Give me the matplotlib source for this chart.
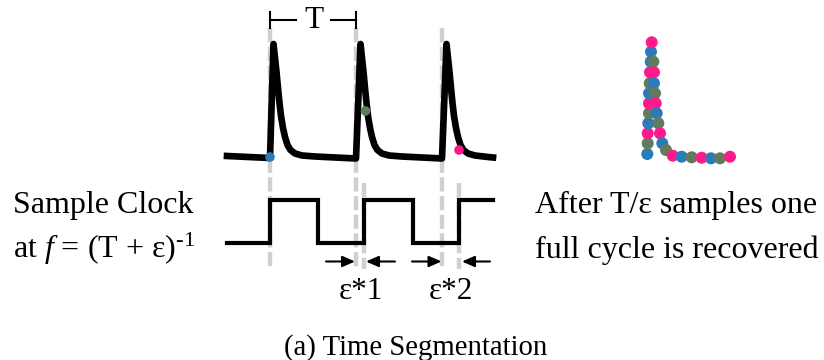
import matplotlib.pyplot as plt

plt.rcParams['font.family'] = ['Liberation Serif', 'DejaVu Serif']
plt.rcParams['mathtext.fontset'] = 'custom'
plt.rcParams['mathtext.rm'] = 'Liberation Serif'
plt.rcParams['mathtext.it'] = 'Liberation Serif:italic'

BLUE = '#2b7bba'
GREEN = '#5f7c5c'
PINK = '#ff1a8c'

# pulse waveform (pixel coordinates)
wave_x = [227, 270, 273.5, 275, 276.5, 278, 279.5, 281, 283, 285, 287.5, 290.5, 295, 302, 315, 356,
          360.5, 362, 363.5, 365, 366.5, 368, 370, 372, 374.5, 377.5, 382, 389, 402, 442,
          446.5, 448, 449.5, 451, 452.5, 454, 456, 458, 460.5, 463.5, 468, 475, 488, 493]
wave_y = [156, 158, 44, 58, 72, 88, 103, 116, 128, 137, 145, 150, 153.5, 155.5, 156.5, 158.5,
          44, 58, 72, 88, 103, 116, 128, 137, 145, 150, 153.5, 155.5, 156.5, 158.5,
          44, 58, 72, 88, 103, 116, 128, 137, 145, 150, 153.5, 155.5, 157, 157.5]

# sample clock square wave
clock_x = [227, 270, 270, 318, 318, 364, 364, 413, 413, 459, 459, 493]
clock_y = [243, 243, 200, 200, 243, 243, 200, 200, 243, 243, 200, 200]

# grey guides: pulse onsets and clock edges
guide_long = [270, 356, 442]
guide_short = [364, 459]

# samples taken on the pulses
dot_x = [270, 365.5, 459]
dot_y = [157, 111, 150]
dot_c = [BLUE, GREEN, PINK]

# reconstructed cycle
rec_x = [647.3, 647.7, 647.7, 648.3, 649, 649, 649, 649.7, 650, 650.7, 651, 651.7,
         653.3, 654, 654, 655, 655.7, 656.7, 658.3, 660, 662.3, 666, 672.7,
         681.7, 691.7, 701.7, 711, 720, 730]
rec_y = [154, 143.3, 133.3, 123.3, 113.3, 103.3, 93.3, 83.3, 72.3, 61.7, 51.7, 42.3,
         61.7, 72.3, 83.3, 93.3, 103.3, 113.3, 123.3, 133.3, 143.3, 150, 155.7,
         156.7, 157.3, 157.7, 158.3, 158.3, 156.7]
rec_c = [BLUE, GREEN, PINK, BLUE, GREEN, PINK, BLUE, GREEN, PINK, BLUE, BLUE, PINK,
         GREEN, PINK, BLUE, GREEN, PINK, BLUE, GREEN, PINK, BLUE, GREEN, PINK,
         BLUE, GREEN, PINK, BLUE, GREEN, PINK]

# epsilon offset arrows (tail, tip)
arrows = [(326, 355), (395, 366), (412, 441.5), (490, 462)]
eps_labels = ['ε*1', 'ε*2']
eps_x = [360.5, 450.5]

fig = plt.figure(figsize=(8.24, 3.6), dpi=100)
ax = fig.add_axes([0, 0, 1, 1])
ax.set_xlim(0, 824)
ax.set_ylim(360, 0)
ax.axis('off')

for x in guide_long:
    ax.plot([x, x], [28, 269], color='#d0d0d0', lw=3.2, ls=(0, (3.2, 1.0)), zorder=1)
for x in guide_short:
    ax.plot([x, x], [183, 269], color='#d0d0d0', lw=3.2, ls=(0, (3.2, 1.0)), zorder=1)

ax.plot(wave_x, wave_y, color='k', lw=4.8, solid_joinstyle='round', zorder=2)
ax.plot(clock_x, clock_y, color='k', lw=3, solid_joinstyle='miter', zorder=2)
ax.scatter(dot_x, dot_y, c=dot_c, s=48, zorder=3, linewidths=0)
ax.scatter(rec_x, rec_y, c=rec_c, s=75, zorder=3, linewidths=0)

# period bracket
ax.plot([270, 270], [12, 28], color='k', lw=1.5)
ax.plot([356.5, 356.5], [12, 28], color='k', lw=1.5)
ax.plot([270, 296], [19.5, 19.5], color='k', lw=1.5)
ax.plot([331, 356.5], [19.5, 19.5], color='k', lw=1.5)
ax.text(314, 28, 'T', fontsize=22.5, ha='center', va='baseline')

for tail, tip in arrows:
    ax.annotate('', xy=(tip, 261.5), xytext=(tail, 261.5),
                arrowprops=dict(arrowstyle='-|>,head_length=0.75,head_width=0.33',
                                mutation_scale=10, lw=1.5, color='k',
                                shrinkA=0, shrinkB=0))
for lab, x in zip(eps_labels, eps_x):
    ax.text(x, 299, lab, fontsize=22.5, ha='center', va='baseline')

ax.text(13, 213, 'Sample Clock', fontsize=23, ha='left', va='baseline')
ax.text(13, 258, 'at $f$ = (T + ε)$^{\\text{-1}}$', fontsize=23, ha='left', va='baseline')
ax.text(676.5, 213, 'After T/ε samples one', fontsize=23, ha='center', va='baseline')
ax.text(676.5, 258, 'full cycle is recovered', fontsize=23, ha='center', va='baseline')

ax.text(415.5, 355, '(a) Time Segmentation', fontsize=20.7, ha='center', va='baseline')

fig.savefig('out.png', dpi=100)
